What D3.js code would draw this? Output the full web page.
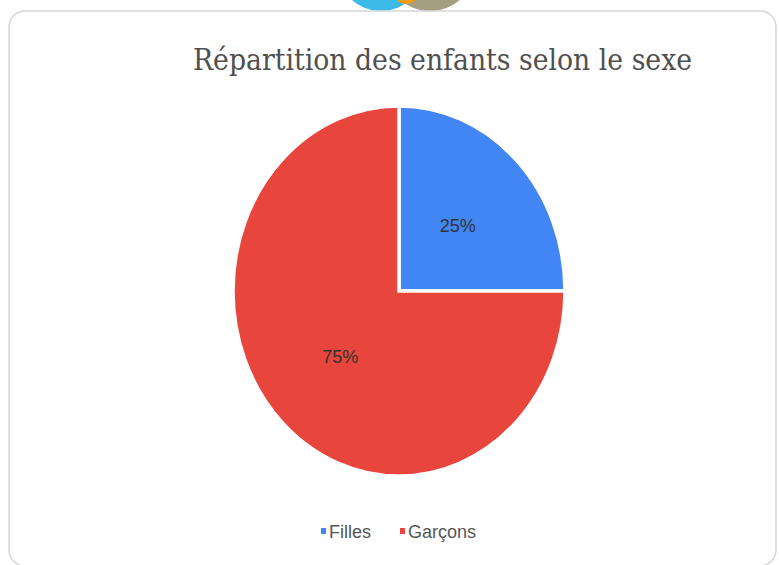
<!DOCTYPE html>
<html>
<head>
  <meta charset="utf-8">
  <title>Répartition des enfants selon le sexe</title>
  <script src="https://d3js.org/d3.v7.min.js"></script>
  <style>
    body { margin: 0; background: #fff; }
    .legend text { font-family: "Liberation Sans", Arial, sans-serif; font-size: 18px; fill: #555; }
    .lbl { font-family: "Liberation Sans", Arial, sans-serif; font-size: 18px; fill: #333; }
  </style>
</head>
<body>
  <svg id="screen"></svg>

  <script>
    // data
    const categories = ["Filles", "Garçons"]
    const values = [25, 75]
    const colors = ["#4285f4", "#e8453c"]
    const title = "Répartition des enfants selon le sexe"

    const W = 779, H = 565
    let frame = d3.select("#screen").attr("width", W).attr("height", H)

    // the bits of logo peeking at the top
    frame.append("circle").attr("cx", 381).attr("cy", -33).attr("r", 44).attr("fill", "#3dbbe8")
    frame.append("circle").attr("cx", 430).attr("cy", -35).attr("r", 46).attr("fill", "#a59e80")
    frame.append("circle").attr("cx", 406).attr("cy", -8).attr("r", 12).attr("fill", "#f39c12")

    // card
    frame.append("rect")
      .attr("x", 9).attr("y", 11).attr("width", 767).attr("height", 555)
      .attr("rx", 16)
      .attr("fill", "#fff").attr("stroke", "#d6d6d6").attr("stroke-width", 1.5)

    frame.append("text")
      .attr("x", 193).attr("y", 70)
      .attr("textLength", 499).attr("lengthAdjust", "spacingAndGlyphs")
      .style("font-family", "'DejaVu Serif', 'Liberation Serif', serif")
      .style("font-size", "29px")
      .style("fill", "#505050")
      .text(title)

    // pie (slightly stretched vertically, like the picture)
    const cx = 399, cy = 291, rx = 166, ry = 185
    let pie = d3.pie().sort(null)(values)
    let arc = d3.arc().innerRadius(0).outerRadius(rx)
    let g = frame.append("g").attr("transform", `translate(${cx},${cy}) scale(1,${ry / rx})`)

    g.selectAll("path")
      .data(pie)
      .enter()
      .append("path")
      .attr("d", arc)
      .attr("fill", (d, i) => colors[i])
      .attr("stroke", "#fff")
      .attr("stroke-width", 3.5)
      .attr("vector-effect", "non-scaling-stroke")

    let labelArc = d3.arc().innerRadius(rx * 0.5).outerRadius(rx * 0.5)
    const total = d3.sum(values)
    frame.selectAll(".lbl")
      .data(pie)
      .enter()
      .append("text")
      .attr("class", "lbl")
      .attr("text-anchor", "middle")
      .attr("dy", "0.35em")
      .attr("x", d => cx + labelArc.centroid(d)[0])
      .attr("y", d => cy + labelArc.centroid(d)[1] * ry / rx)
      .text(d => Math.round(d.value / total * 100) + "%")

    // legend
    let legend = frame.append("g").attr("class", "legend")
    const legendX = [321, 400]
    categories.forEach((c, i) => {
      legend.append("rect").attr("x", legendX[i]).attr("y", 528)
        .attr("width", 5).attr("height", 6).attr("fill", colors[i])
      legend.append("text").attr("x", legendX[i] + 8).attr("y", 538).text(c)
    })
  </script>
</body>
</html>
